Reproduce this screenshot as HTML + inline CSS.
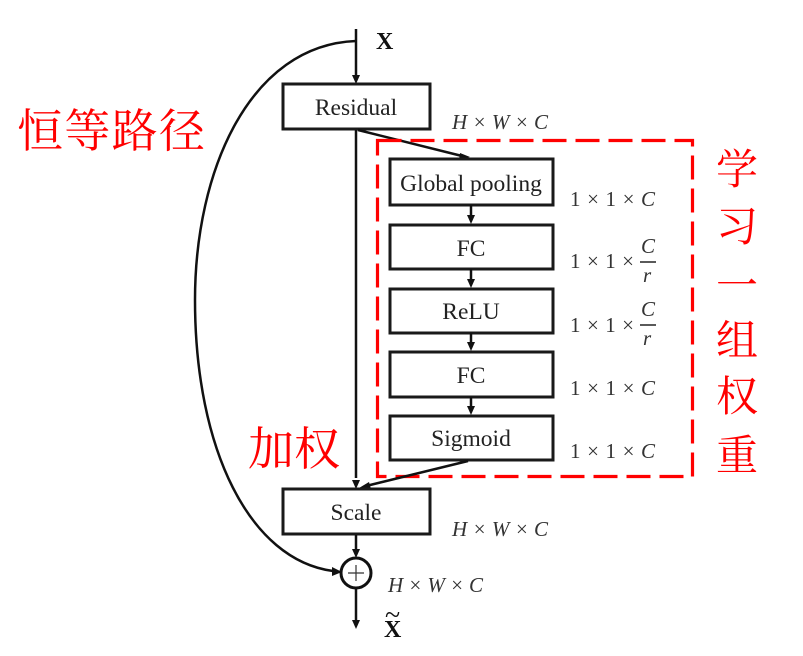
<!DOCTYPE html>
<html><head><meta charset="utf-8"><style>
html,body{margin:0;padding:0;background:#fff}
svg{display:block}
.b{fill:#fff;stroke:#1a1a1a;stroke-width:3}
.l{fill:none;stroke:#111;stroke-width:2.5}
.t{font-family:"Liberation Serif",serif;font-size:23.500px;fill:#222;text-anchor:middle}
.d{font-family:"Liberation Serif",serif;font-size:21px;fill:#333;font-style:italic}
.n{font-family:"Liberation Serif",serif;font-size:21px;fill:#333}
.c{font-family:"Noto Serif CJK SC","Noto Sans CJK SC",serif;font-size:46px;fill:#f00;text-anchor:middle}
.r{font-size:42px}
.a{fill:#111;stroke:none}
</style></head><body>
<svg width="803" height="656" viewBox="0 0 803 656" xmlns="http://www.w3.org/2000/svg">
<path class="l" d="M356 29V76"/><path class="a" d="M352 75h8l-4 9z"/>
<path class="l" d="M356 41C250 45 195 170 195 300C195 450 250 560 333 571"/><path class="a" d="M332 567l10 5-10 4z"/>
<rect class="b" x="283" y="84" width="147" height="45"/>
<path class="l" d="M356 130V478"/><path class="a" d="M352 480h8l-4 9z"/>
<path class="l" d="M358 130L462 156"/><path class="a" d="M460 153l10 4-11 3z"/>
<rect x="377.500" y="140.500" width="315" height="336" fill="none" stroke="#f00" stroke-width="3.200" stroke-dasharray="24 9"/>
<rect class="b" x="390" y="159" width="163" height="46"/>
<rect class="b" x="390" y="225" width="163" height="44"/>
<rect class="b" x="390" y="289" width="163" height="44"/>
<rect class="b" x="390" y="352" width="163" height="45"/>
<rect class="b" x="390" y="416" width="163" height="44"/>
<g>
<path class="l" d="M471 205V217"/><path class="a" d="M467 215h8l-4 9z"/>
<path class="l" d="M471 269V281"/><path class="a" d="M467 279h8l-4 9z"/>
<path class="l" d="M471 333V344"/><path class="a" d="M467 342h8l-4 9z"/>
<path class="l" d="M471 397V408"/><path class="a" d="M467 406h8l-4 9z"/>
</g>
<path class="l" d="M468 461L366 486"/><path class="a" d="M369 482l-10 6 12 1z"/>
<rect class="b" x="283" y="489" width="147" height="45"/>
<path class="l" d="M356 535V550"/><path class="a" d="M352 549h8l-4 9z"/>
<circle cx="356" cy="573" r="15" fill="#fff" stroke="#111" stroke-width="3"/>
<path d="M348 573h16M356 565v16" stroke="#333" stroke-width="1.200" fill="none"/>
<path class="l" d="M356 589V621"/><path class="a" d="M352 620h8l-4 9z"/>
<text class="t" x="356" y="115">Residual</text>
<text class="t" x="471" y="191">Global pooling</text>
<text class="t" x="471" y="256">FC</text>
<text class="t" x="471" y="319">ReLU</text>
<text class="t" x="471" y="383">FC</text>
<text class="t" x="471" y="446">Sigmoid</text>
<text class="t" x="356" y="520">Scale</text>
<text x="376" y="49" font-family="Liberation Serif" font-weight="bold" font-size="24" fill="#111">X</text>
<text x="384" y="637" font-family="Liberation Serif" font-weight="bold" font-size="24" fill="#111">X</text>
<text x="385" y="624" font-family="Liberation Serif" font-size="28" fill="#111">~</text>
<text class="d" x="452" y="129" textLength="96">H × W × C</text>
<text class="d" x="452" y="536" textLength="96">H × W × C</text>
<text class="d" x="388" y="592" textLength="95">H × W × C</text>
<text class="n" x="570" y="206" textLength="85">1 × 1 × <tspan font-style="italic">C</tspan></text>
<text class="n" x="570" y="268" textLength="64">1 × 1 ×</text>
<text class="n" x="570" y="332" textLength="64">1 × 1 ×</text>
<text class="n" x="570" y="395" textLength="85">1 × 1 × <tspan font-style="italic">C</tspan></text>
<text class="n" x="570" y="458" textLength="85">1 × 1 × <tspan font-style="italic">C</tspan></text>
<text class="n" x="641" y="253" font-style="italic">C</text>
<path d="M640 262h16" stroke="#222" stroke-width="1.500"/>
<text class="n" x="643" y="282" font-style="italic">r</text>
<text class="n" x="641" y="316" font-style="italic">C</text>
<path d="M640 325h16" stroke="#222" stroke-width="1.500"/>
<text class="n" x="643" y="345" font-style="italic">r</text>
<text class="c" x="111" y="147" textLength="188" lengthAdjust="spacing">恒等路径</text>
<text class="c" x="294" y="465" textLength="92" lengthAdjust="spacing">加权</text>
<text class="c r" x="737" y="184">学</text>
<text class="c r" x="737" y="241">习</text>
<text class="c r" x="737" y="300">一</text>
<text class="c r" x="737" y="355">组</text>
<text class="c r" x="737" y="411">权</text>
<text class="c r" x="737" y="470">重</text>
</svg>
</body></html>
